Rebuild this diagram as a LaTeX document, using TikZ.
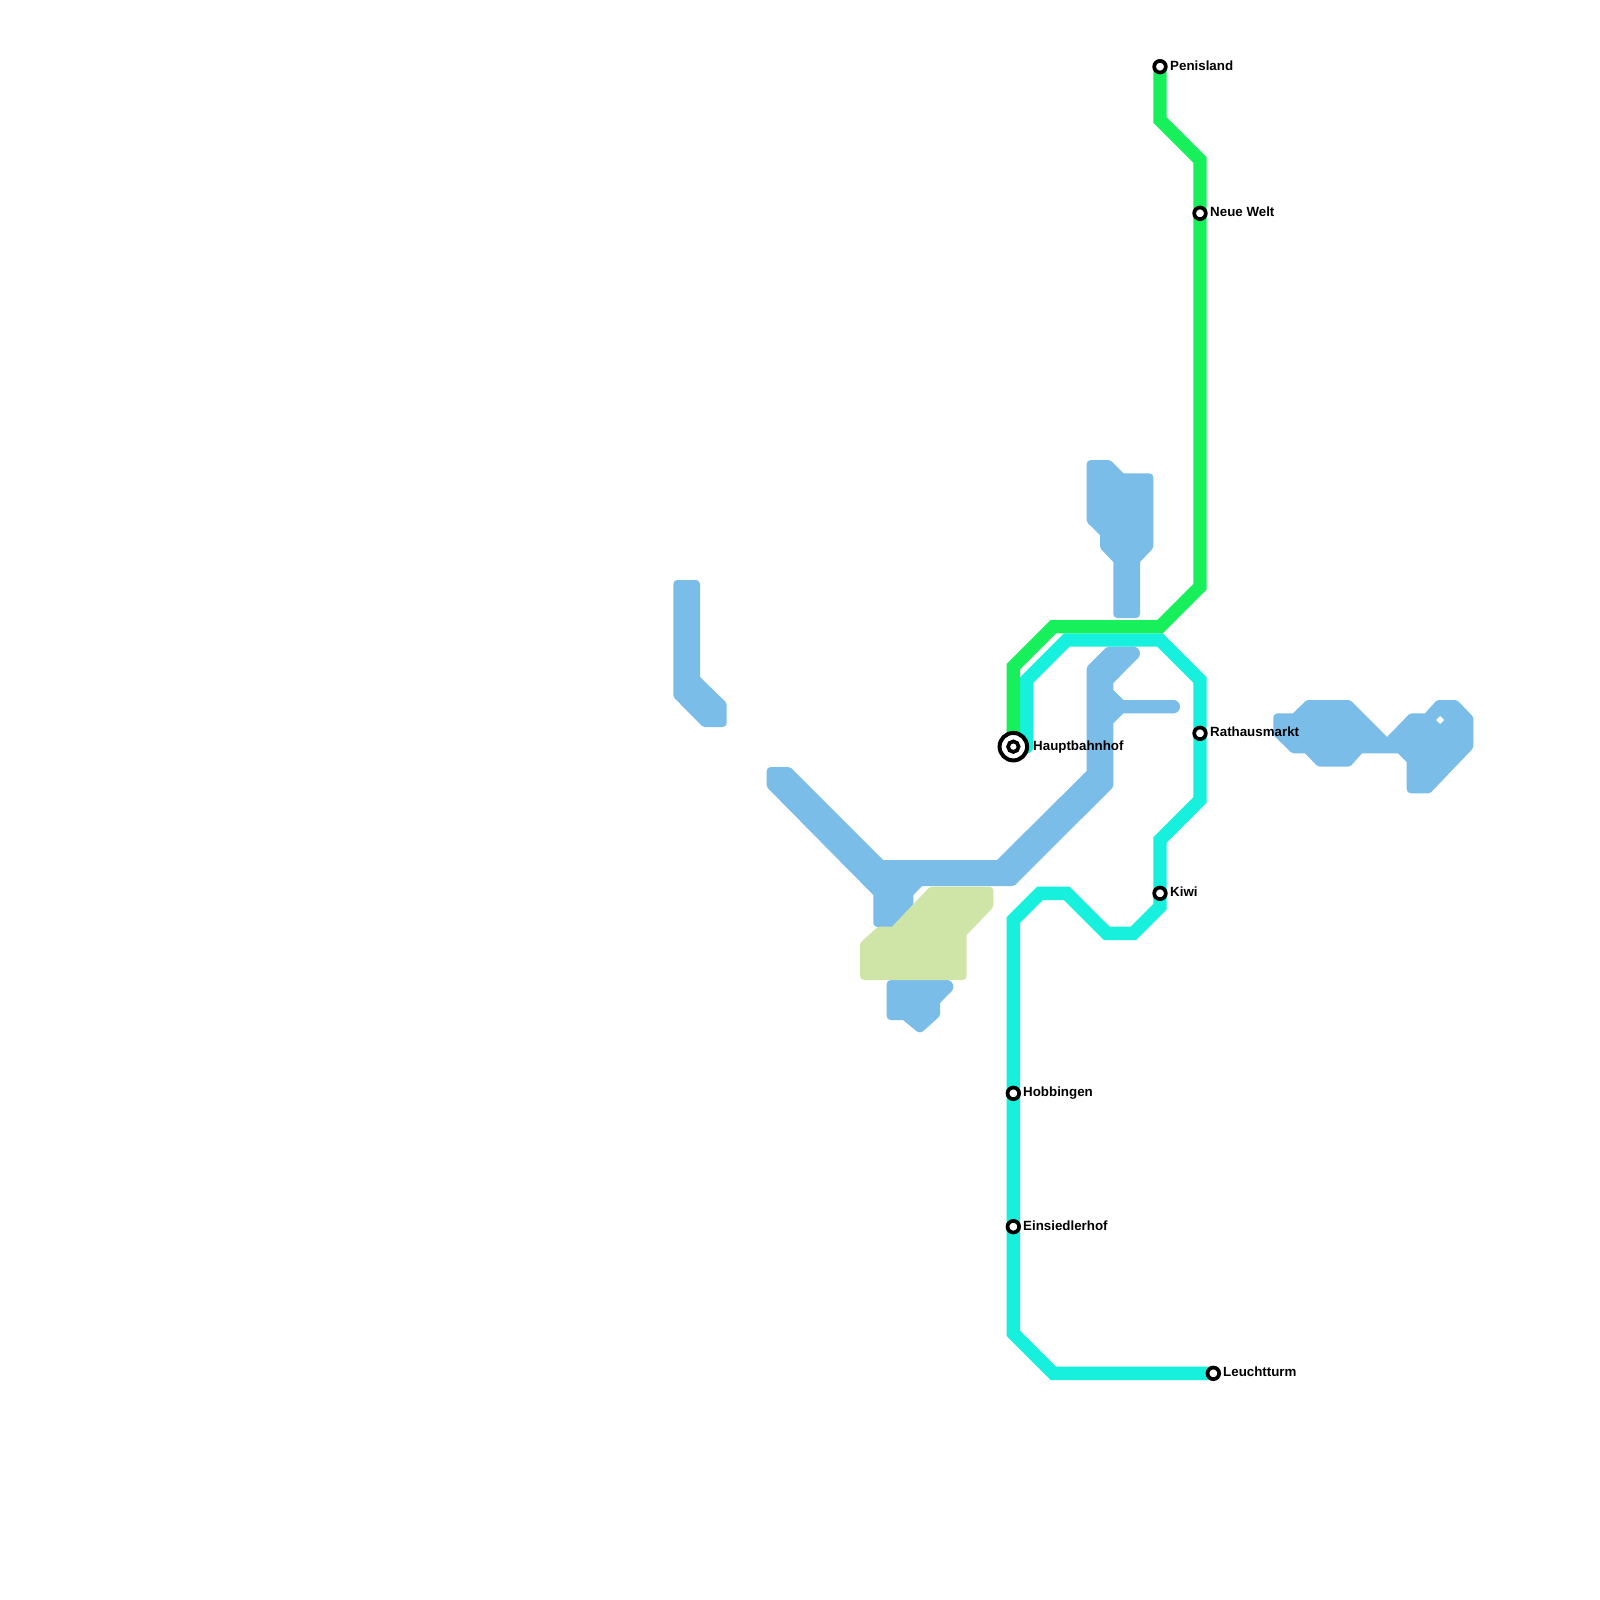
\documentclass[tikz,border=0pt]{standalone}
\usepackage{fontspec}
\setmainfont{Liberation Sans}
\definecolor{bl}{HTML}{7BBDE9}
\definecolor{gr}{HTML}{17F05A}
\definecolor{cy}{HTML}{17F0DC}
\definecolor{pg}{HTML}{CFE5A7}
\def\Sh{[sharp corners]}
\def\A{[rounded corners=1.7pt]}
\def\B{[rounded corners=4pt]}
\tikzset{
  blob/.style={fill=bl},
  pale/.style={fill=pg},
  route/.style={line width=13.33pt,line join=miter,line cap=round},
  stn/.style={circle,draw=black,fill=white,line width=3.7pt,minimum size=11.6pt,inner sep=0pt,outer sep=0pt},
  hubstn/.style={circle,draw=black,fill=white,line width=4pt,minimum size=27.5pt,inner sep=0pt,outer sep=0pt},
  hubin/.style={circle,draw=black,fill=white,line width=3.7pt,minimum size=10.5pt,inner sep=0pt,outer sep=0pt},
  lab/.style={font=\fontsize{13.33pt}{15pt}\selectfont\bfseries,anchor=base west,inner sep=0pt,text=black}
}
\begin{document}
\begin{tikzpicture}[x=1pt,y=-1pt]
\useasboundingbox (0,0) rectangle (1600,1600);
\fill[white] (0,0) rectangle (1600,1600);
% blue blobs
\fill[blob] (686,580) \B -- (700,580) \Sh -- (700,677) \A -- (726.67,703) \B -- (726.67,727) \A -- (703,727) \A -- (673.33,697) \B -- (673.33,580) \Sh -- cycle;
\fill[blob] (778,767) \A -- (790,767) \Sh -- (883,860) \Sh -- (997,860) \Sh -- (1086.67,771) \A -- (1086.67,667) \A -- (1107,646.67) \Sh -- (1133.33,646.67) \Sh -- (1138,658) \Sh -- (1113.33,683) \Sh -- (1113.33,690) \Sh -- (1123.33,700) \Sh -- (1173.33,700) \Sh -- (1173.33,713.33) \Sh -- (1123.33,713.33) \Sh -- (1113.33,723.33) \A -- (1113.33,787) \A -- (1014,886) \Sh -- (922,886) \Sh -- (913.33,895) \A -- (913.33,915) \A -- (893,927) \B -- (873.33,927) \Sh -- (873.33,895) \A -- (766.67,787) \B -- (766.67,767) \Sh -- cycle;
\fill[blob] (1133.33,653.33) circle[radius=6.67];
\fill[blob] (1173.33,706.67) circle[radius=6.67];
\fill[blob] (1098,460) \A -- (1110,460) \Sh -- (1123.33,473.33) \B -- (1153.33,473.33) \A -- (1153.33,548) \Sh -- (1140,562) \B -- (1140,618) \B -- (1113.33,618) \Sh -- (1113.33,562) \A -- (1100,548) \Sh -- (1100,535) \A -- (1086.67,522) \B -- (1086.67,460) \Sh -- cycle;
\fill[blob] (1283,713.33) \Sh -- (1293,713.33) \A -- (1306.67,700) \A -- (1350,700) \Sh -- (1387,737) \A -- (1410,713.33) \Sh -- (1425,713.33) \A -- (1437,700) \A -- (1457,700) \A -- (1473.33,717) \A -- (1473.33,748) \A -- (1430,793.33) \B -- (1406.67,793.33) \Sh -- (1406.67,762) \Sh -- (1398,753.33) \Sh -- (1362,753.33) \A -- (1350,766.67) \A -- (1318,766.67) \Sh -- (1305,753.33) \A -- (1292,753.33) \A -- (1273.33,735) \B -- (1273.33,713.33) \Sh -- cycle;
\fill[white] (1440,716) -- (1444,720) -- (1440,724) -- (1436,720) -- cycle;
\fill[blob] (900,980) \Sh -- (946.67,980) \Sh -- (951.4,991.4) \Sh -- (940,1003) \A -- (940,1016) \B -- (920,1034) \Sh -- (903,1020) \B -- (886.67,1020) \B -- (886.67,980) \Sh -- cycle;
\fill[blob] (946.67,986.67) circle[radius=6.67];
% pale green area
\fill[pale] (950,886.67) \B -- (993.33,886.67) \A -- (993.33,907) \Sh -- (966.67,935) \B -- (966.67,980) \B -- (860,980) \A -- (860,943) \A -- (878,926.67) \Sh -- (892,926.67) \A -- (930,886.67) \Sh -- cycle;
% routes
\coordinate (hb) at (1013.33,746.67);
\coordinate (pe) at (1160,66.67);
\coordinate (ne) at (1200,213.33);
\coordinate (ra) at (1200,733.33);
\coordinate (ki) at (1160,893.33);
\coordinate (ho) at (1013.33,1093.33);
\coordinate (ei) at (1013.33,1226.67);
\coordinate (le) at (1213.33,1373.33);
\draw[route,cy] (1026.67,746.67) -- (1026.67,680) -- (1066.67,640) -- (1160,640) -- (1200,680) -- (1200,800) -- (1160,840) -- (1160,906.67) -- (1133.33,933.33) -- (1106.67,933.33) -- (1066.67,893.33) -- (1040,893.33) -- (1013.33,920) -- (1013.33,1333.33) -- (1053.33,1373.33) -- (le);
\draw[route,gr] (hb) -- (1013.33,666.67) -- (1053.33,626.67) -- (1160,626.67) -- (1200,586.67) -- (1200,160) -- (1160,120) -- (pe);
% stations
\node[hubstn] (hbo) at (hb) {};
\node[hubin] (hbi) at (hb) {};
\node[stn] (pen) at (pe) {};
\node[stn] (nen) at (ne) {};
\node[stn] (ran) at (ra) {};
\node[stn] (kin) at (ki) {};
\node[stn] (hon) at (ho) {};
\node[stn] (ein) at (ei) {};
\node[stn] (len) at (le) {};
\node[lab] (l1) at (1170,70.2) {Penisland};
\node[lab] (l2) at (1210,216.6) {Neue Welt};
\node[lab] (l3) at (1210,736.8) {Rathausmarkt};
\node[lab] (l4) at (1170,896.8) {Kiwi};
\node[lab] (l5) at (1023,1096.8) {Hobbingen};
\node[lab] (l6) at (1023,1230.2) {Einsiedlerhof};
\node[lab] (l7) at (1223,1376.8) {Leuchtturm};
\node[lab] (l8) at (1033,750) {Hauptbahnhof};
\end{tikzpicture}
\end{document}
